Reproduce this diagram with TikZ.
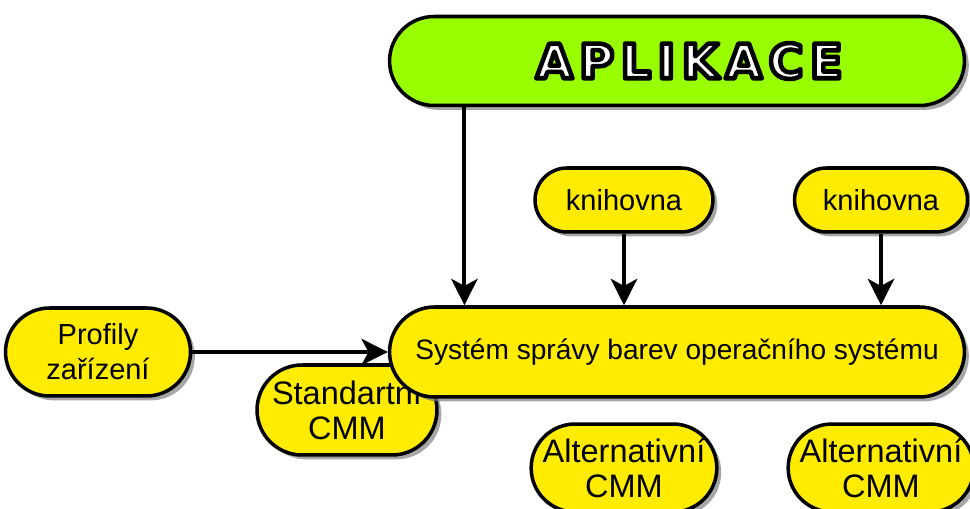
\documentclass[tikz,border=0pt]{standalone}
\usepackage{fontspec}
\setmainfont{Liberation Sans}
\newfontfamily\appfont[LetterSpace=14]{DejaVu Sans Bold}
\usetikzlibrary{shapes.misc,shadows,arrows.meta}

\definecolor{pillyellow}{HTML}{FFEC00}
\definecolor{pilltop}{HTML}{FFF7A8}
\definecolor{pillbottom}{HTML}{C89600}
\definecolor{appgreen}{HTML}{99FF00}
\definecolor{apptop}{HTML}{D2FF99}
\definecolor{appbottom}{HTML}{6AAE00}

% mostly flat fill, light rim on top, darker rim below
\pgfdeclareverticalshading{yellowpill}{100bp}{color(0bp)=(pillbottom); color(18bp)=(pillyellow); color(80bp)=(pillyellow); color(100bp)=(pilltop)}
\pgfdeclareverticalshading{greenpill}{100bp}{color(0bp)=(appbottom); color(18bp)=(appgreen); color(80bp)=(appgreen); color(100bp)=(apptop)}

% white letters with a black rim
\newcommand{\rimtext}[1]{\special{pdf:literal direct 2 Tr 1 j 2.6 w 0 G}#1\special{pdf:literal direct 0 Tr}}

\tikzset{
  pill/.style={rounded rectangle, draw=black, line width=2pt, inner sep=0pt,
    shading=yellowpill,
    drop shadow={shadow xshift=2.5pt, shadow yshift=-2.5pt, fill=black!50, opacity=0.7},
    align=center, font=\fontsize{16.5}{20}\selectfont},
  bigpill/.style={pill, font=\fontsize{18.5}{20}\selectfont},
  apppill/.style={pill, shading=greenpill},
  arr/.style={-{Stealth[length=15pt, width=15pt, inset=4pt]}, line width=2.3pt}
}

\begin{document}
\begin{tikzpicture}[x=0.02cm, y=-0.02cm]
\useasboundingbox (0,0) rectangle (970,509);

% the application on top
\node[apppill, minimum width=11.5cm, minimum height=1.78cm, text=white,
  font=\fontsize{27}{27}\selectfont\appfont] (app) at (677,61) {\hspace{14pt}\rimtext{APLIKACE}};

% libraries
\node[pill, minimum width=3.56cm, minimum height=1.28cm] (lib1) at (624,200) {knihovna};
\node[pill, minimum width=3.46cm, minimum height=1.28cm] (lib2) at (881,200) {knihovna};

% device profiles and the standard CMM (behind the system)
\node[pill, minimum width=3.7cm, minimum height=1.76cm] (profiles) at (98,352) {Profily\\ zařízení};
\node[bigpill, minimum width=3.6cm, minimum height=1.8cm] (stdcmm) at (347,410) {Standartní\\ CMM};

% colour management of the OS
\node[pill, minimum width=11.5cm, minimum height=1.8cm, font=\fontsize{16}{20}\selectfont] (oscms) at (677,352) {Systém správy barev operačního systému};

% alternative CMMs
\node[bigpill, minimum width=3.56cm, minimum height=1.76cm] (altcmm1) at (624,468) {Alternativní\\ CMM};
\node[bigpill, minimum width=3.46cm, minimum height=1.76cm] (altcmm2) at (881,468) {Alternativní\\ CMM};

% connectors
\draw[arr] ([xshift=-121pt]app.south) -- ([xshift=-121pt]app.south |- oscms.north);
\draw[arr] (lib1.south) -- (lib1.south |- oscms.north);
\draw[arr] (lib2.south) -- (lib2.south |- oscms.north);
\draw[arr] (profiles.east) -- (oscms.west);
\end{tikzpicture}
\end{document}
